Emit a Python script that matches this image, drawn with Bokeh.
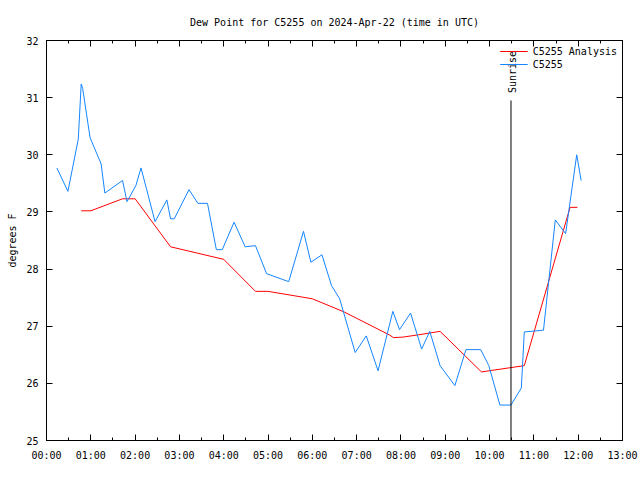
import math
from bokeh.plotting import figure
from bokeh.models import (FixedTicker, LinearAxis, Legend, LegendItem, Label, Range1d)
from bokeh.embed import file_html
from bokeh.resources import INLINE

# ---- data ----
obs_times = ["0:14","0:29","0:43","0:47","0:49","0:59","1:14","1:19","1:43","1:49",
             "2:01","2:08","2:27","2:43","2:48","2:53","3:13","3:25","3:38","3:50",
             "3:58","4:14","4:29","4:43","4:58","5:28","5:48","5:58","6:13","6:26",
             "6:37","6:58","7:13","7:29","7:49","7:58","8:13","8:28","8:39","8:53",
             "9:13","9:28","9:48","9:59","10:14","10:29","10:43","10:47","11:13","11:29",
             "11:43","11:58","12:04"]
obs_dewpt = [29.77,29.36,30.27,31.24,31.16,30.30,29.84,29.33,29.55,29.18,
             29.46,29.77,28.83,29.21,28.88,28.88,29.39,29.15,29.15,28.34,
             28.34,28.82,28.39,28.41,27.92,27.78,28.66,28.12,28.25,27.71,
             27.48,26.54,26.83,26.22,27.26,26.94,27.23,26.60,26.91,26.31,
             25.96,26.59,26.59,26.31,25.62,25.62,25.92,26.90,26.93,28.86,
             28.62,30.00,29.55]

ana_times = ["0:47","1:00","1:43","2:00","2:48","4:00","4:43","5:00","6:00","6:43",
             "7:44","7:50","8:03","8:24","8:53","9:49","10:10","10:47","11:49","11:59"]
ana_dewpt = [29.02,29.02,29.23,29.23,28.39,28.17,27.61,27.61,27.48,27.25,
             26.85,26.80,26.81,26.85,26.91,26.20,26.24,26.31,29.08,29.08]

sunrise_time = "10:29"
x_tick_labels = ["00:00","01:00","02:00","03:00","04:00","05:00","06:00","07:00",
                 "08:00","09:00","10:00","11:00","12:00","13:00"]
y_ticks = [25, 26, 27, 28, 29, 30, 31, 32]
title_text = "Dew Point for C5255 on 2024-Apr-22 (time in UTC)"

def to_hours(s):
    h, m = s.split(":")
    return int(h) + int(m) / 60.0

obs_x = [to_hours(t) for t in obs_times]
ana_x = [to_hours(t) for t in ana_times]
sunrise_x = to_hours(sunrise_time)

FONT = "DejaVu Sans Mono"

p = figure(width=640, height=480, output_backend="svg", toolbar_location=None,
           x_range=Range1d(0, 13), y_range=Range1d(25, 32),
           x_axis_type=None, y_axis_type=None,
           min_border_left=46, min_border_right=18, min_border_top=40, min_border_bottom=40)
p.background_fill_color = "white"
p.border_fill_color = "white"
p.outline_line_color = "black"
p.outline_line_width = 1
p.xgrid.visible = False
p.ygrid.visible = False

p.title.text = title_text
p.title.align = "center"
p.title.text_font = FONT
p.title.text_font_size = "10px"
p.title.text_font_style = "normal"
p.title.text_color = "black"
p.title.standoff = 25

x_major = list(range(len(x_tick_labels)))
xticks = FixedTicker(ticks=x_major,
                     minor_ticks=[i * 0.5 for i in range(2 * len(x_tick_labels) - 1)])
yticker = FixedTicker(ticks=y_ticks, minor_ticks=[])

def style(ax):
    ax.major_tick_in = 6
    ax.major_tick_out = 0
    ax.minor_tick_in = 3
    ax.minor_tick_out = 0
    ax.axis_line_color = "black"
    ax.major_tick_line_color = "black"
    ax.minor_tick_line_color = "black"
    ax.major_label_text_font = FONT
    ax.major_label_text_font_size = "10px"
    ax.major_label_text_color = "black"

xb = LinearAxis(ticker=xticks)
xb.major_label_overrides = {i: lab for i, lab in enumerate(x_tick_labels)}
style(xb)
xb.major_label_standoff = 9
p.add_layout(xb, "below")

xt = LinearAxis(ticker=xticks)
style(xt)
xt.major_label_overrides = {i: "" for i in x_major}
xt.major_label_standoff = 0
p.add_layout(xt, "above")

yl = LinearAxis(ticker=yticker, axis_label="degrees F")
style(yl)
yl.major_label_standoff = 8
yl.axis_label_text_font = FONT
yl.axis_label_text_font_size = "10px"
yl.axis_label_text_font_style = "normal"
yl.axis_label_text_color = "black"
yl.axis_label_standoff = 5
p.add_layout(yl, "left")

yr = LinearAxis(ticker=yticker)
style(yr)
yr.major_label_overrides = {v: "" for v in y_ticks}
yr.major_label_standoff = 0
p.add_layout(yr, "right")

r_ana = p.line(ana_x, ana_dewpt, line_color="#ff0000", line_width=1)
r_obs = p.line(obs_x, obs_dewpt, line_color="#1485ff", line_width=1)

# sunrise marker
p.segment(x0=[sunrise_x], y0=[25], x1=[sunrise_x], y1=[30.95], line_color="black", line_width=1)
p.add_layout(Label(x=sunrise_x, y=31.08, text="Sunrise", angle=math.pi / 2,
                   text_font=FONT, text_font_size="10px", text_align="left",
                   text_baseline="middle", text_color="black", x_offset=2))

legend = Legend(items=[LegendItem(label="C5255 Analysis", renderers=[r_ana]),
                       LegendItem(label="C5255", renderers=[r_obs])],
                location="top_right")
legend.label_text_font = FONT
legend.label_text_font_size = "10px"
legend.label_text_color = "black"
legend.background_fill_alpha = 0
legend.border_line_alpha = 0
legend.glyph_width = 28
legend.glyph_height = 12
legend.label_height = 12
legend.spacing = 1
legend.padding = 2
legend.margin = 3
legend.label_standoff = 5
p.add_layout(legend, "center")

open("out.html", "w").write(file_html(p, INLINE))
